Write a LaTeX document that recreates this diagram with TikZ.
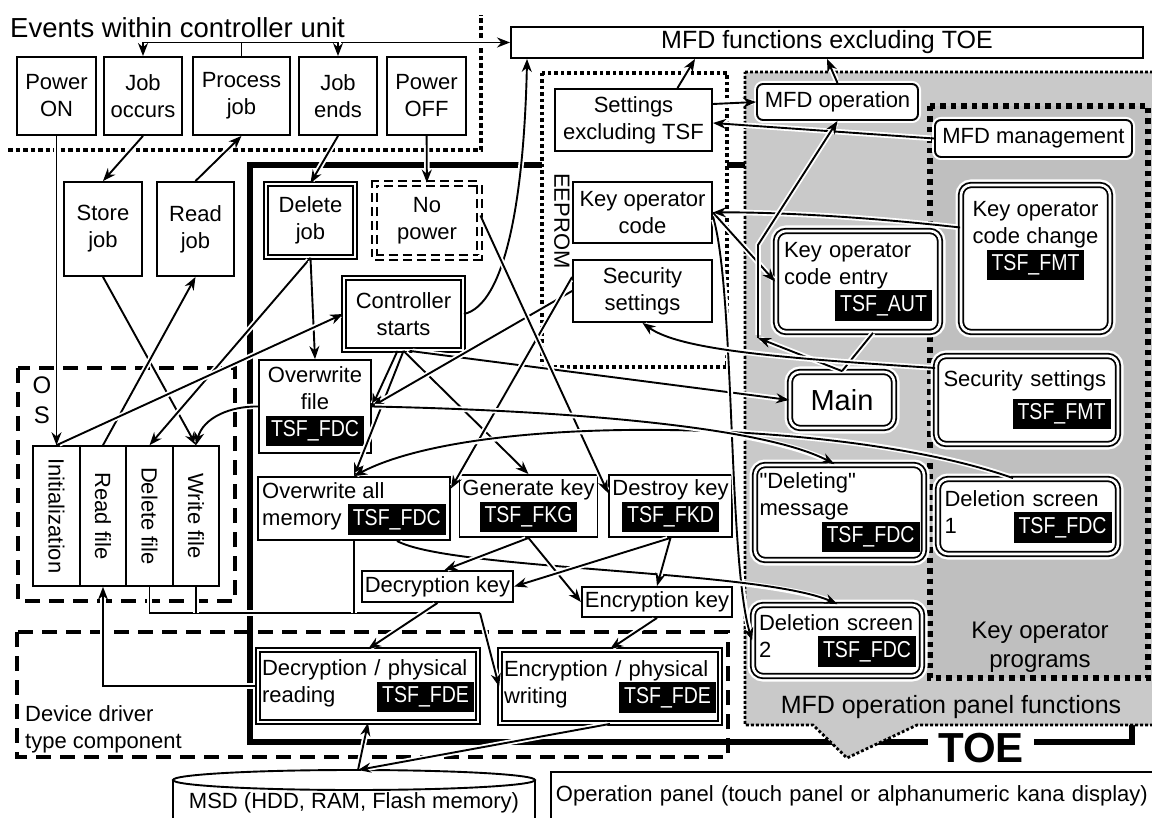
\documentclass[tikz,border=0pt]{standalone}
\usepackage{fontspec}
\setmainfont{Liberation Sans}
\newfontfamily\tsffont[FakeStretch=0.85]{Liberation Sans}
\usetikzlibrary{arrows.meta}
\newcommand\tsf[1]{{\setlength\fboxsep{5pt}\colorbox{black}{\tsffont\fontsize{23}{27}\selectfont\color{white}#1}}}
\begin{document}
\begin{tikzpicture}[
    x=1pt, y=-1pt,
    every node/.style={font=\fontsize{22}{27}\selectfont, inner sep=3pt},
    box/.style={draw, line width=1.9pt, fill=white, align=center},
    dbox/.style={box, line width=1.8pt, double=white, double distance=2.6pt},
    rbox/.style={box, rounded corners=6pt, preaction={draw=white, line width=6pt}},
    rdbox/.style={dbox, rounded corners=10pt, preaction={draw=white, line width=11pt}},
    col/.style={draw, line width=1.6pt, minimum width=46.5pt, minimum height=140pt, inner sep=0pt},
    arr/.style={-{Stealth[length=13pt,width=10pt]}, line width=1.9pt,
      preaction={draw=white, line width=5.5pt, -, shorten <=3pt, shorten >=3pt}},
    wire/.style={line width=1.9pt, preaction={draw=white, line width=5.5pt}},
    evdot/.style={line width=3.5pt, dash pattern=on 4.5pt off 3pt},
    eedot/.style={line width=3.5pt, dash pattern=on 3.5pt off 3pt},
    grdot/.style={line width=2.8pt, dash pattern=on 2.8pt off 2.2pt},
    kodot/.style={line width=5.5pt, dash pattern=on 5.5pt off 5pt},
    dd/.style={line width=3.5pt, dash pattern=on 15pt off 9pt},
  ]
  \useasboundingbox (0,0) rectangle (1152,818);
  % areas
  \draw[evdot] (8,150) -- (481,150) -- (481,15);
  \draw[line width=6pt] (250,165) rectangle (1132,742);
  \draw[dd] (18,368) rectangle (235,601);
  \draw[dd] (17,632) rectangle (728,757);
  \draw[eedot, fill=white] (542,73) rectangle (727,367);
  \draw[grdot, fill=black!21] (745,72) -- (1170,72) -- (1170,725) -- (917,725)
    -- (847,758) -- (813,725) -- (745,725) -- cycle;
  \draw[kodot, fill=black!25] (930,106) rectangle (1148,678);

  \node[anchor=west, font=\fontsize{27.5}{30}\selectfont] (title) at (7,28) {Events within controller unit};
  \node[align=center, font=\fontsize{24}{30}\selectfont] (oslbl) at (42,400) {O\\S};
  \node[align=left, anchor=north west, inner sep=0pt] (ddlbl) at (25,705) {Device driver\\type component};
  \node[rotate=-90] (eeprom) at (562,221) {EEPROM};
  \node[font=\fontsize{25}{30}\selectfont] (mfdpf) at (951,707) {MFD operation panel functions};
  \node[align=center, font=\fontsize{24}{29}\selectfont] (kop) at (1040,647) {Key operator\\programs};
  \node[fill=white, inner xsep=10pt, inner ysep=0pt, font=\fontsize{42}{42}\selectfont\bfseries] (toe) at (981,748) {TOE};

  % controller events
  \node[box, minimum width=79pt, minimum height=78pt] (pon) at (56.5,96) {Power\\ON};
  \node[box, minimum width=78pt, minimum height=78pt] (jocc) at (143,96) {Job\\occurs};
  \node[box, minimum width=97pt, minimum height=78pt] (proc) at (241.5,96) {Process\\job};
  \node[box, minimum width=78pt, minimum height=78pt] (jend) at (338,96) {Job\\ends};
  \node[box, minimum width=79pt, minimum height=78pt] (poff) at (426.5,96) {Power\\OFF};
  \node[box, minimum width=632pt, minimum height=31pt, font=\fontsize{25}{27}\selectfont] (mfdf) at (827,42.5) {MFD functions excluding TOE};
  \node[box, minimum width=78pt, minimum height=94pt] (store) at (103,229) {Store\\job};
  \node[box, minimum width=77pt, minimum height=94pt] (readj) at (195.5,229) {Read\\job};

  % OS
  \node[col] (init) at (56.5,516) {\rotatebox{-90}{Initialization}};
  \node[col] (readf) at (103,516) {\rotatebox{-90}{Read file}};
  \node[col] (delf) at (149.5,516) {\rotatebox{-90}{Delete file}};
  \node[col] (writef) at (196,516) {\rotatebox{-90}{Write file}};

  % TOE
  \node[dbox, minimum width=89pt, minimum height=73pt] (deljob) at (310.5,220.5) {Delete\\job};
  \node[dbox, dash pattern=on 9pt off 5pt, minimum width=105pt, minimum height=74pt] (nopow) at (427,220.5) {No\\power};
  \node[dbox, minimum width=119pt, minimum height=72pt] (ctrl) at (403.5,314) {Controller\\starts};
  \node[box, minimum width=112pt, minimum height=93pt] (owf) at (315,406.5) {Overwrite\\file\\\tsf{TSF\_FDC}};
  \node[box, align=left, minimum width=192pt, minimum height=63pt] (owam) at (354,508.5) {Overwrite all\\memory \tsf{TSF\_FDC}};
  \node[box, minimum width=131pt, minimum height=62pt] (genk) at (528.5,506) {Generate key\\\tsf{TSF\_FKG}};
  \node[box, minimum width=123pt, minimum height=62pt] (desk) at (670.5,506) {Destroy key\\\tsf{TSF\_FKD}};
  \node[box, minimum width=149pt, minimum height=31pt] (deck) at (437.5,586.5) {Decryption key};
  \node[box, minimum width=140pt, minimum height=30pt] (enck) at (657,602) {Encryption key};
  \node[dbox, align=left, text width=212pt, minimum width=220pt, minimum height=72pt] (decr) at (368,686) {\mbox{Decryption / physical}\\reading\hfill\tsf{TSF\_FDE}};
  \node[dbox, align=left, text width=212pt, minimum width=220pt, minimum height=73pt] (encw) at (610,686.5) {\mbox{Encryption / physical}\\writing\hfill\tsf{TSF\_FDE}};

  % EEPROM
  \node[box, minimum width=157pt, minimum height=62pt] (setx) at (633.5,120) {Settings\\excluding TSF};
  \node[box, minimum width=139pt, minimum height=61pt] (kocode) at (642.5,212.5) {Key operator\\code};
  \node[box, minimum width=139pt, minimum height=62pt] (secs) at (642.5,291) {Security\\settings};

  % operation panel functions
  \node[rbox, minimum width=161pt, minimum height=36pt] (mfdo) at (837.5,102) {MFD operation};
  \node[rbox, minimum width=197pt, minimum height=37pt] (mfdm) at (1033.5,138.5) {MFD management};
  \node[rdbox, minimum width=149pt, minimum height=147pt] (kocc) at (1035.5,258.5) {Key operator\\code change\\\tsf{TSF\_FMT}\rule[-45pt]{0pt}{45pt}};
  \node[rdbox, align=left, text width=148pt, minimum width=164pt, minimum height=101pt] (koce) at (858,281.5) {Key operator\\code entry\\\hfill\tsf{TSF\_AUT}};
  \node[rdbox, minimum width=104pt, minimum height=56pt, font=\fontsize{29}{30}\selectfont] (main) at (842,400) {Main};
  \node[rdbox, align=left, text width=167pt, minimum width=182pt, minimum height=88pt] (secr) at (1027,400) {Security settings\\[6pt]\hfill\tsf{TSF\_FMT}};
  \node[rdbox, align=left, text width=160pt, minimum width=169pt, minimum height=95pt] (delmsg) at (839.5,512.5) {\textquotedbl Deleting\textquotedbl\\message\\\hfill\tsf{TSF\_FDC}};
  \node[rdbox, align=left, text width=167pt, minimum width=180pt, minimum height=75pt] (dsc1) at (1028,516.5) {Deletion screen\\1\hfill\tsf{TSF\_FDC}};
  \node[rdbox, align=left, text width=157pt, minimum width=169pt, minimum height=71pt] (dsc2) at (837.5,640.5) {Deletion screen\\2\hfill\tsf{TSF\_FDC}};

  % storage and panel
  \fill[white] (173,780) rectangle (535,830);
  \draw[line width=1.9pt] (173,830) -- (173,780) (535,780) -- (535,830);
  \draw[line width=1.9pt, fill=white] (354,780) ellipse [x radius=181, y radius=10];
  \node (msd) at (354,803) {MSD (HDD, RAM, Flash memory)};
  \coordinate (msdtop) at (358,770);
  \node[box, anchor=north west, align=left, text width=630pt, minimum height=48pt, inner xsep=5pt] (opp) at (550,771) {Operation panel (touch panel or alphanumeric kana display)};

  % connectors
  \coordinate (bus) at (proc.north |- mfdf.west);
  \draw[arr] (proc.north) |- (mfdf.west);
  \draw[arr] (bus) -| (jocc);
  \draw[arr] (bus) -| (jend);
  \draw[arr] (jocc.south) -- (store.north);
  \draw[arr] (readj.north) -- (proc.south);
  \draw[arr] (jend.south) -- (deljob.north);
  \draw[arr] (poff) -- (nopow);
  \draw[arr] (pon) -- (init);
  \draw[arr] (store.south) -- (writef.north);
  \draw[arr] (readf.north) -- (readj.south);
  \draw[arr] (deljob.south) -- (delf.north);
  \draw[arr] (deljob.south) -- (owf.north);
  \draw[arr] (init.north) -- (ctrl.west);
  \draw[arr] (ctrl.east) .. controls (505,305) and (524,200) .. ([xshift=17pt]mfdf.south west);
  \draw[arr] (owf.west) .. controls (230,406) and (203,418) .. (writef.north);
  \draw[arr] ([xshift=-6pt]ctrl.south) -- (owf.east);
  \draw[arr] (ctrl.south) -- (owam.north);
  \draw[arr] (ctrl.south) -- (genk.north);
  \draw[arr] ([xshift=6pt]ctrl.south) -- (main.west);
  \draw[arr] (secs.west) -- (owf.east);
  \draw[arr] ([yshift=14pt]secs.west) -- ([yshift=20pt]owam.east);
  \draw[arr] ([yshift=5pt]nopow.east) -- ([yshift=13pt]desk.west);
  \draw[arr] (kocode.east) -- (koce.west);
  \draw[arr] ([yshift=31pt]kocc.west) .. controls (850,215) and (760,212) .. (kocode.east);
  \draw[arr] ([yshift=-4pt]kocode.east) .. controls (735,290) and (728,560) .. (dsc2.west);
  \draw[arr] (mfdm.west) -- ([yshift=-3pt]setx.east);
  \draw[arr] ([yshift=16pt]setx.east) -- (mfdo.west);
  \draw[arr] ([xshift=44pt]setx.north) -- ([xshift=-132pt]mfdf.south);
  \draw[arr] (mfdo.north) -- (mfdf.south);
  \coordinate (mk) at (758,338);
  \draw[wire] (main.north) -- ([xshift=15pt]koce.south);
  \draw[arr] (main.north) -- (mk);
  \draw[arr] (mk) -- (758,245) -- (mfdo.south);
  \draw[arr] ([yshift=32pt]secr.west) .. controls (780,358) and (680,350) .. (secs.south);
  \draw[arr] ([xshift=-15pt]dsc1.north) .. controls (850,420) and (480,410) .. (owam.north);
  \draw[arr] (owf.east) .. controls (550,410) and (760,425) .. ([xshift=-5pt]delmsg.north);
  \draw[arr] ([xshift=43pt]owam.south) .. controls (450,570) and (760,570) .. (dsc2.north);
  \coordinate (jn) at (480,613);
  \draw[wire] (delf.south) |- (jn);
  \draw[wire] (writef.south) -- (writef.south |- jn);
  \draw[wire] (owam.south) -- (owam.south |- jn);
  \draw[arr] (jn) -- (encw.west);
  \draw[arr] (decr.west) -| (readf.south);
  \draw[arr] (genk.south) -- ([xshift=7pt]deck.north);
  \draw[arr] (genk.south) -- (enck.west);
  \draw[arr] (desk.south) -- (deck.east);
  \draw[arr] (desk.south) -- (enck.north);
  \draw[arr] (deck.south) -- (decr.north);
  \draw[arr] (enck.south) -- (encw.north);
  \draw[arr] (encw.south) -- (msdtop);
  \draw[arr] (msdtop) -- (decr.south);
\end{tikzpicture}
\end{document}
